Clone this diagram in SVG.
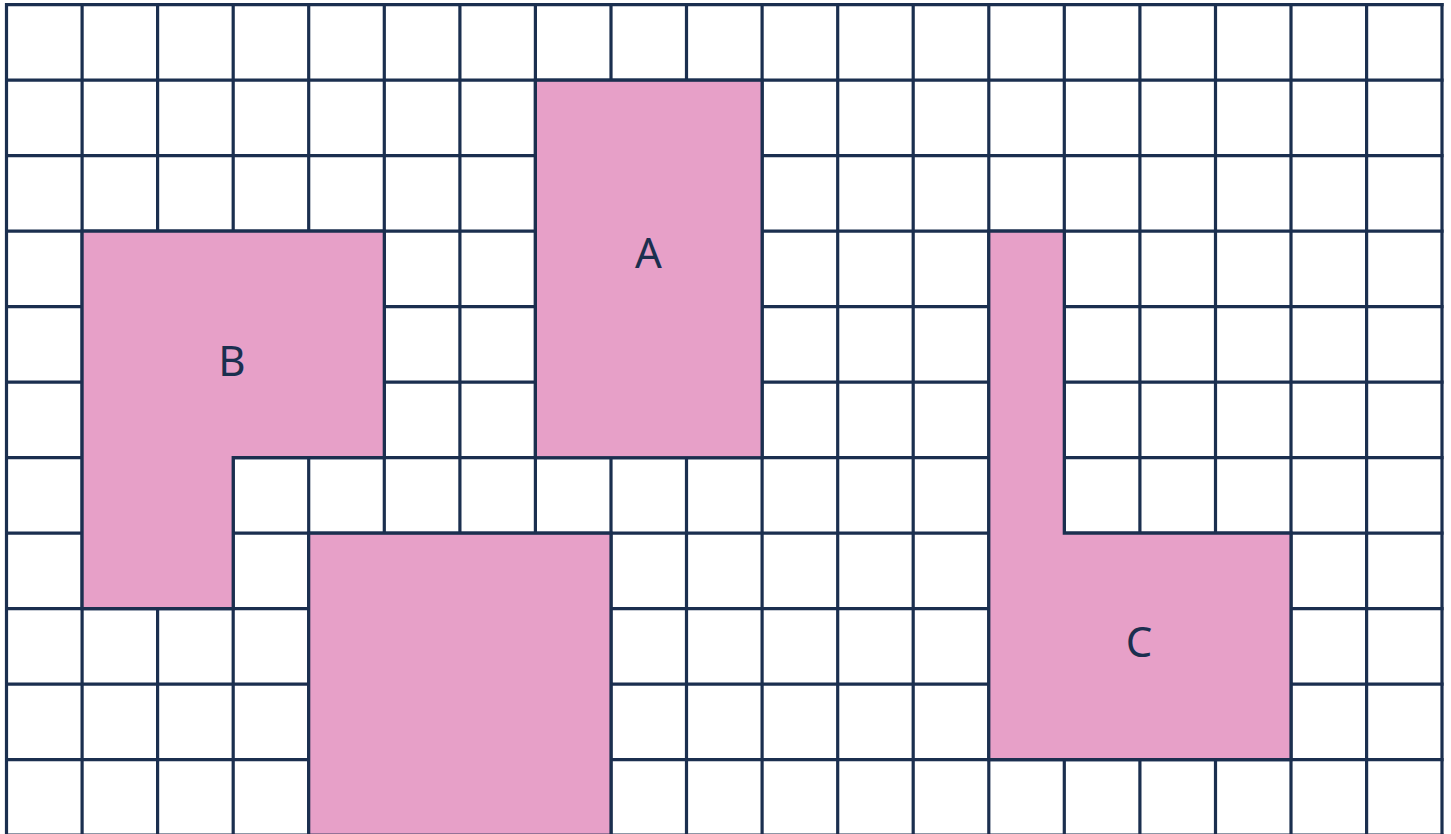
<svg xmlns="http://www.w3.org/2000/svg" width="1451" height="834" viewBox="0 0 1451 834">
  <style>
    .grid line { stroke: #1B2F4F; stroke-width: 3.2; }
    .region { fill: #E7A0C8; stroke: #1B2F4F; stroke-width: 3.2; stroke-linejoin: miter; }
    .label { font-family: "Noto Sans", "Open Sans", sans-serif; font-size: 42px; fill: #1B2F4F; text-anchor: middle; }
  </style>
  <rect x="0" y="0" width="1451" height="834" fill="#FFFFFF"/>
  <g id="grid" class="grid">
    <line x1="6.5" y1="3" x2="6.5" y2="840"/>
    <line x1="82.1" y1="3" x2="82.1" y2="840"/>
    <line x1="157.6" y1="3" x2="157.6" y2="840"/>
    <line x1="233.2" y1="3" x2="233.2" y2="840"/>
    <line x1="308.7" y1="3" x2="308.7" y2="840"/>
    <line x1="384.3" y1="3" x2="384.3" y2="840"/>
    <line x1="459.9" y1="3" x2="459.9" y2="840"/>
    <line x1="535.4" y1="3" x2="535.4" y2="840"/>
    <line x1="611" y1="3" x2="611" y2="840"/>
    <line x1="686.5" y1="3" x2="686.5" y2="840"/>
    <line x1="762.1" y1="3" x2="762.1" y2="840"/>
    <line x1="837.7" y1="3" x2="837.7" y2="840"/>
    <line x1="913.2" y1="3" x2="913.2" y2="840"/>
    <line x1="988.8" y1="3" x2="988.8" y2="840"/>
    <line x1="1064.3" y1="3" x2="1064.3" y2="840"/>
    <line x1="1139.9" y1="3" x2="1139.9" y2="840"/>
    <line x1="1215.5" y1="3" x2="1215.5" y2="840"/>
    <line x1="1291" y1="3" x2="1291" y2="840"/>
    <line x1="1366.6" y1="3" x2="1366.6" y2="840"/>
    <line x1="1442" y1="3" x2="1442" y2="840"/>
    <line x1="5" y1="4.7" x2="1443.6" y2="4.7"/>
    <line x1="5" y1="80.2" x2="1443.6" y2="80.2"/>
    <line x1="5" y1="155.7" x2="1443.6" y2="155.7"/>
    <line x1="5" y1="231.2" x2="1443.6" y2="231.2"/>
    <line x1="5" y1="306.7" x2="1443.6" y2="306.7"/>
    <line x1="5" y1="382.2" x2="1443.6" y2="382.2"/>
    <line x1="5" y1="457.7" x2="1443.6" y2="457.7"/>
    <line x1="5" y1="533.2" x2="1443.6" y2="533.2"/>
    <line x1="5" y1="608.7" x2="1443.6" y2="608.7"/>
    <line x1="5" y1="684.2" x2="1443.6" y2="684.2"/>
    <line x1="5" y1="759.7" x2="1443.6" y2="759.7"/>
    <line x1="5" y1="835.2" x2="1443.6" y2="835.2"/>
  </g>
  <g id="region-A">
    <rect class="region" x="535.4" y="80.2" width="226.7" height="377.5"/>
    <text class="label" x="648.5" y="268">A</text>
  </g>
  <g id="region-B">
    <path class="region" d="M82.1 231.2 H384.3 V457.7 H233.2 V608.7 H82.1 Z"/>
    <text class="label" x="232" y="376">B</text>
  </g>
  <g id="region-D">
    <rect class="region" x="308.7" y="533.2" width="302.3" height="302"/>
  </g>
  <g id="region-C">
    <path class="region" d="M988.8 231.2 H1064.3 V533.2 H1291 V759.7 H988.8 Z"/>
    <text class="label" x="1139" y="657">C</text>
  </g>
  <g id="connectors"/>
</svg>
